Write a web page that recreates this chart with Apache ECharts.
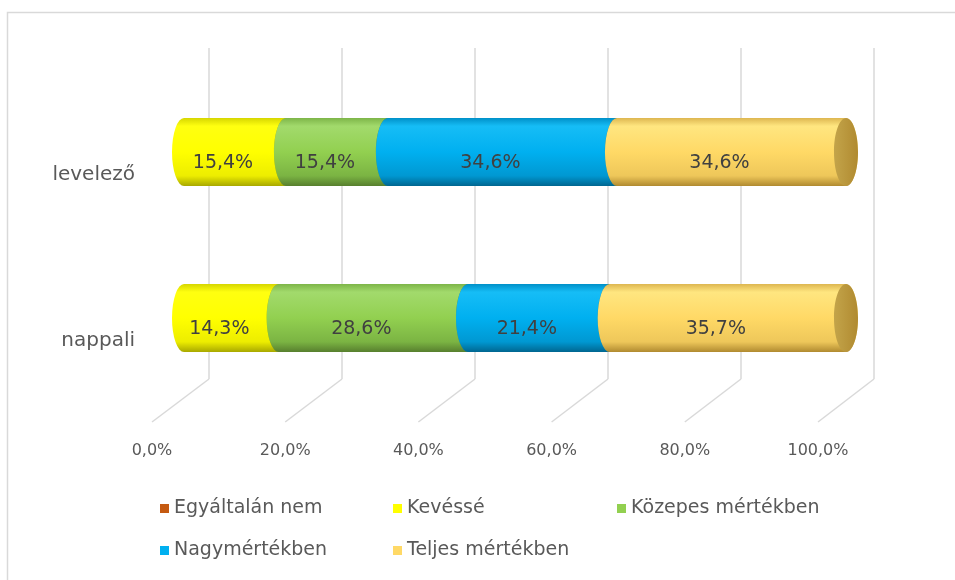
<!DOCTYPE html>
<html>
<head>
<meta charset="utf-8">
<script src="https://cdn.jsdelivr.net/npm/echarts@6/dist/echarts.min.js"></script>
<style>
  html, body { margin: 0; padding: 0; background: #fff; }
  #chart { width: 955px; height: 580px; }
</style>
</head>
<body>
<div id="chart"></div>
<script>
const categories = ["nappali", "levelező"];
const seriesNames = ["Egyáltalán nem", "Kevéssé", "Közepes mértékben", "Nagymértékben", "Teljes mértékben"];
const egyaltalanNem = [0, 0];
const kevesse = [14.3, 15.4];
const kozepes = [28.6, 15.4];
const nagymertekben = [21.4, 34.6];
const teljes = [35.7, 34.6];
const tickValues = [0, 20, 40, 60, 80, 100];

const FONT = "'DejaVu Sans', sans-serif";
const TEXT = "#595959";

// body gradient stops + cap colour per series
const palette = [
  { base: "#C55A11", stops: ["#A44A0D", "#D8691C", "#C55A11", "#A84C0E", "#7C380A"], cap: "#9A460D" },
  { base: "#FFFF00", stops: ["#D6D600", "#FFFF10", "#FFFF00", "#EDED00", "#A8A800"], cap: "#C8C800" },
  { base: "#92D050", stops: ["#7DB548", "#A2DA6C", "#92D050", "#7BB443", "#577F2E"], cap: "#6E9E3C" },
  { base: "#00B0F0", stops: ["#0090C8", "#16BDF6", "#00B0F0", "#0098D2", "#006690"], cap: "#0087B8" },
  { base: "#FFD966", stops: ["#DDB650", "#FFE680", "#FFD966", "#EEC75A", "#B08A30"], cap: "#C3A44A" }
];

const rawValues = [egyaltalanNem, kevesse, kozepes, nagymertekben, teljes];

// stacked [start, end, categoryIndex, value]
const stacked = rawValues.map(() => []);
categories.forEach((c, ci) => {
  let acc = 0;
  rawValues.forEach((vals, si) => {
    stacked[si].push([acc, acc + vals[ci], ci, vals[ci]]);
    acc += vals[ci];
  });
});

const fmt = (v) => v.toFixed(1).replace(".", ",") + "%";

function makeRender(si) {
  const p = palette[si];
  return function (params, api) {
    const val = api.value(3);
    if (!val) return;
    const s = api.coord([api.value(0), api.value(2)]);
    const e = api.coord([api.value(1), api.value(2)]);
    const h = api.size([0, 1])[1] * 0.41;
    const top = s[1] - h / 2;
    const bot = s[1] + h / 2;
    const rx = 12;
    const ry = h / 2;
    const x0 = s[0];
    const x1 = e[0];
    const grad = new echarts.graphic.LinearGradient(0, 0, 0, 1, [
      { offset: 0, color: p.stops[0] },
      { offset: 0.12, color: p.stops[1] },
      { offset: 0.5, color: p.stops[2] },
      { offset: 0.85, color: p.stops[3] },
      { offset: 1, color: p.stops[4] }
    ]);
    const path =
      "M" + x0 + "," + top +
      " L" + x1 + "," + top +
      " A" + rx + "," + ry + " 0 0 1 " + x1 + "," + bot +
      " L" + x0 + "," + bot +
      " A" + rx + "," + ry + " 0 0 1 " + x0 + "," + top + " Z";
    return {
      type: "group",
      children: [
        { type: "path", shape: { pathData: path }, style: { fill: grad } },
        {
          type: "ellipse",
          shape: { cx: x1, cy: s[1], rx: rx, ry: ry },
          style: {
            fill: new echarts.graphic.LinearGradient(0, 0, 1, 0, [
              { offset: 0, color: p.cap },
              { offset: 1, color: p.stops[4] }
            ])
          }
        },
        {
          type: "text",
          x: (x0 + x1) / 2 - rx,
          y: s[1] + 11,
          style: {
            text: fmt(val),
            align: "center",
            verticalAlign: "middle",
            fill: "#404040",
            font: "19px " + FONT
          }
        }
      ]
    };
  };
}

const chart = echarts.init(document.getElementById("chart"), null, { renderer: "canvas" });

const legendLeft = [160, 393, 617, 160, 393];
const legendTop = [499, 499, 499, 541, 541];

const option = {
  animation: false,
  backgroundColor: "#fff",
  grid: [
    { left: 184, right: 109, top: 69, height: 332 },
    { left: 209, width: 665, top: 48, height: 331 },
    { left: 152, width: 666, top: 379, height: 43 },
    { left: 184, right: 109, top: 92, height: 332 }
  ],
  xAxis: [
    { type: "value", gridIndex: 0, min: 0, max: 100, show: false },
    {
      type: "value", gridIndex: 1, min: 0, max: 100, interval: 20,
      axisLine: { show: false }, axisTick: { show: false }, axisLabel: { show: false },
      splitLine: { show: true, lineStyle: { color: "#d9d9d9", width: 1.5 } }
    },
    {
      type: "value", gridIndex: 2, min: 0, max: 100, interval: 20,
      axisLine: { show: false }, axisTick: { show: false }, splitLine: { show: false },
      axisLabel: {
        margin: 21, color: TEXT, fontSize: 16, fontFamily: FONT,
        formatter: (v) => fmt(v)
      }
    },
    { type: "value", gridIndex: 3, min: 0, max: 100, show: false }
  ],
  yAxis: [
    { type: "category", gridIndex: 0, data: categories, show: false },
    { type: "value", gridIndex: 1, show: false },
    { type: "value", gridIndex: 2, show: false },
    {
      type: "category", gridIndex: 3, data: categories,
      axisLine: { show: false }, axisTick: { show: false }, splitLine: { show: false },
      axisLabel: { margin: 49, color: TEXT, fontSize: 20, fontFamily: FONT }
    }
  ],
  legend: seriesNames.map((n, i) => ({
    data: [n],
    left: legendLeft[i],
    top: legendTop[i],
    padding: 0,
    icon: "rect",
    itemWidth: 9,
    itemHeight: 9,
    itemGap: 0,
    selectedMode: false,
    textStyle: { color: TEXT, fontSize: 19, fontFamily: FONT }
  })),
  series: seriesNames.map((n, si) => ({
    name: n,
    type: "custom",
    xAxisIndex: 0,
    yAxisIndex: 0,
    itemStyle: { color: palette[si].base },
    renderItem: makeRender(si),
    encode: { x: [0, 1], y: 2 },
    data: stacked[si]
  }))
};

chart.setOption(option);

// slanted floor lines joining back-wall grid lines to the floor labels
const wallBottom = 379, floorFront = 422;
const lines = tickValues.map((v) => {
  const xt = chart.convertToPixel({ xAxisIndex: 1 }, v);
  const xb = chart.convertToPixel({ xAxisIndex: 2 }, v);
  return {
    type: "line",
    shape: { x1: xt, y1: wallBottom, x2: xb, y2: floorFront },
    style: { stroke: "#d9d9d9", lineWidth: 1.5 },
    silent: true
  };
});
lines.push({
  type: "rect",
  shape: { x: 7.5, y: 12.5, width: 960, height: 600 },
  style: { fill: null, stroke: "#d9d9d9", lineWidth: 1.5 },
  silent: true
});
chart.setOption({ graphic: lines });
</script>
</body>
</html>
